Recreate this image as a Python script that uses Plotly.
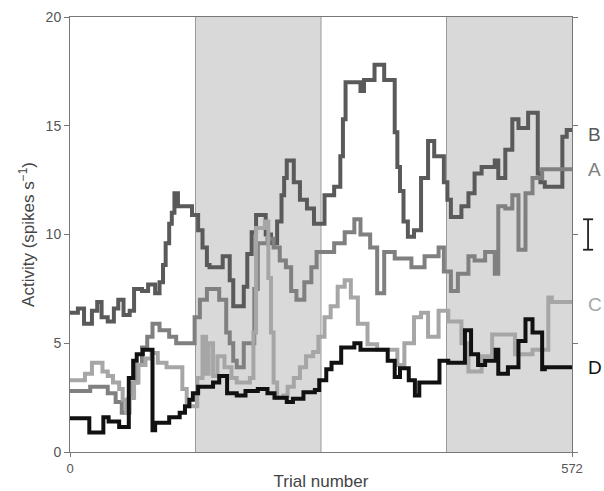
import plotly.graph_objects as go

# ---- data (trial number where each step starts, firing rate in spikes/s) ----
trial_B = [0, 9, 16, 25, 31, 36, 43, 50, 55, 61, 68, 73, 82, 89, 97, 102, 106, 109, 113, 116,
           119, 123, 139, 146, 151, 156, 159, 174, 182, 186, 198, 202, 207, 212, 223, 229, 236, 241, 244, 247,
           255, 262, 270, 278, 290, 301, 308, 311, 314, 331, 335, 347, 358, 370, 373, 376, 380, 385, 392, 400,
           408, 415, 426, 430, 434, 446, 454, 461, 469, 484, 488, 496, 504, 511, 522, 533, 536, 541, 561, 566, 572]
rate_B = [6.4, 6.6, 5.9, 6.5, 6.9, 6.2, 6.0, 6.6, 7.0, 6.3, 6.5, 7.5, 7.4, 7.7, 7.3, 7.8, 8.6, 9.6, 10.5, 11.0,
          11.9, 11.3, 10.9, 10.2, 9.4, 8.6, 8.5, 9.0, 7.9, 6.7, 7.6, 9.1, 10.1, 10.9, 10.0, 9.6, 10.6, 11.8, 12.6, 13.4,
          12.4, 11.6, 11.2, 10.5, 11.8, 12.2, 13.6, 15.3, 17.0, 16.6, 17.1, 17.8, 17.1, 14.7, 13.1, 12.0, 10.6, 9.9, 10.2, 12.6,
          14.3, 13.6, 12.4, 11.6, 10.8, 11.3, 11.9, 12.8, 13.1, 13.4, 12.6, 13.9, 15.3, 14.9, 15.6, 12.8, 12.4, 12.2, 14.5, 14.8, 14.8]

trial_A = [0, 23, 43, 52, 59, 67, 72, 76, 82, 88, 94, 102, 113, 121, 142, 148, 156, 170, 178, 182,
           186, 190, 198, 210, 214, 225, 232, 239, 246, 252, 258, 267, 275, 281, 301, 313, 324, 331, 342, 350,
           358, 370, 389, 404, 420, 426, 434, 442, 454, 461, 473, 484, 488, 496, 504, 511, 519, 527, 538, 572]
rate_A = [2.8, 3.0, 2.7, 2.3, 1.8, 2.5, 3.2, 4.0, 4.8, 5.3, 5.9, 5.6, 5.3, 5.0, 6.2, 7.0, 7.5, 7.0, 5.5, 5.0,
          4.2, 3.9, 5.0, 7.5, 9.6, 9.8, 9.4, 8.8, 8.5, 7.4, 7.0, 7.8, 8.5, 9.2, 9.6, 10.1, 10.7, 10.0, 9.4, 7.3,
          9.2, 8.9, 8.5, 9.0, 9.4, 8.3, 7.4, 8.2, 9.0, 8.8, 9.2, 8.2, 11.3, 11.2, 11.8, 9.3, 11.9, 12.6, 13.0, 13.0]

trial_C = [0, 17, 25, 37, 43, 49, 56, 60, 64, 68, 73, 78, 86, 93, 100, 110, 128, 133, 136, 145,
           151, 155, 158, 163, 168, 176, 184, 190, 205, 209, 212, 222, 226, 229, 232, 236, 243, 248, 255, 262,
           269, 277, 283, 290, 297, 305, 313, 320, 328, 339, 350, 373, 381, 392, 400, 408, 420, 431, 446, 454,
           469, 481, 507, 527, 545, 549, 572]
rate_C = [3.3, 3.6, 4.1, 3.7, 3.5, 3.2, 2.9, 2.4, 1.8, 2.5, 3.2, 4.0, 4.3, 4.55, 4.1, 3.9, 2.9, 2.3, 2.1, 3.4,
          5.3, 3.6, 5.0, 3.5, 4.4, 3.9, 3.4, 3.2, 3.4, 5.5, 10.3, 10.6, 8.0, 5.5, 3.2, 2.5, 2.6, 3.0, 3.4, 3.9,
          4.4, 4.6, 5.3, 6.2, 6.7, 7.6, 7.9, 7.1, 5.9, 4.95, 4.7, 4.0, 5.0, 6.2, 6.4, 5.3, 6.5, 6.0, 5.0, 3.7,
          4.4, 5.4, 4.5, 4.7, 7.1, 6.9, 6.9]

trial_D = [0, 22, 38, 44, 56, 67, 72, 76, 83, 94, 97, 113, 125, 131, 136, 140, 146, 163, 170, 179,
           190, 200, 214, 225, 233, 247, 254, 266, 279, 284, 292, 298, 309, 324, 331, 362, 370, 376, 386, 393,
           398, 421, 431, 450, 457, 465, 473, 485, 488, 499, 511, 519, 527, 538, 541, 572]
rate_D = [1.55, 0.9, 1.6, 1.4, 1.15, 3.4, 4.2, 4.5, 4.7, 1.0, 1.35, 1.6, 1.8, 2.1, 2.4, 2.7, 3.0, 3.2, 3.5, 2.7,
          2.6, 2.8, 2.9, 2.7, 2.5, 2.3, 2.45, 2.75, 2.85, 3.3, 3.8, 4.1, 4.8, 5.0, 4.7, 4.2, 3.45, 3.85, 3.3, 2.6,
          3.2, 4.2, 4.1, 5.6, 4.5, 4.0, 4.2, 4.7, 3.6, 3.9, 5.1, 6.1, 5.5, 3.8, 3.9, 3.9]

shaded_blocks = [(143, 286), (429, 572)]
block_edges = [143, 286, 429]
n_trials = 572

series = [
    ("B", trial_B, rate_B, "#5a5a5a", 14.6),
    ("A", trial_A, rate_A, "#808080", 13.0),
    ("C", trial_C, rate_C, "#a6a6a6", 6.8),
    ("D", trial_D, rate_D, "#111111", 3.9),
]
for name, t, r, c, _ in series:
    assert len(t) == len(r), name

fig = go.Figure()

for name, t, r, c, _ in series:
    fig.add_trace(go.Scatter(x=t, y=r, mode="lines", line=dict(color=c, width=4, shape="hv"),
                             name=name, showlegend=False, hoverinfo="skip"))

shapes = []
for x0, x1 in shaded_blocks:
    shapes.append(dict(type="rect", xref="x", yref="y domain", x0=x0, x1=x1, y0=0, y1=1,
                       fillcolor="#d9d9d9", line=dict(width=0), layer="below"))
for e in block_edges:
    shapes.append(dict(type="line", xref="x", yref="y domain", x0=e, x1=e, y0=0, y1=1,
                       line=dict(color="#9a9a9a", width=1), layer="below"))

# scale bar "I" next to the right axis at 10 spikes/s
bar_x = 1.032
shapes.append(dict(type="line", xref="paper", yref="y", x0=bar_x, x1=bar_x, y0=9.3, y1=10.7,
                   line=dict(color="#222", width=1.8)))
for yy in (9.3, 10.7):
    shapes.append(dict(type="line", xref="paper", yref="y", x0=bar_x - 0.01, x1=bar_x + 0.01,
                       y0=yy, y1=yy, line=dict(color="#222", width=1.8)))

annotations = []
for name, t, r, c, ylab in series:
    annotations.append(dict(x=1.027, xref="paper", y=ylab, yref="y", text=name, showarrow=False,
                            xanchor="left", yanchor="middle",
                            font=dict(family="Liberation Sans, Arial, sans-serif", size=19, color=c)))

fig.update_layout(
    width=604, height=491,
    margin=dict(l=70, r=32, t=17, b=39, autoexpand=False),
    paper_bgcolor="white", plot_bgcolor="white",
    shapes=shapes, annotations=annotations,
    font=dict(family="Liberation Sans, Arial, sans-serif", color="#444"),
    xaxis=dict(range=[0, n_trials], tickvals=[0, n_trials], ticktext=["0", "572"],
               ticks="outside", ticklen=4, tickcolor="#777", showgrid=False, zeroline=False,
               showline=True, linecolor="#777", linewidth=1, mirror=True, automargin=False,
               tickfont=dict(size=13, color="#555"),
               title=dict(text="Trial number", font=dict(size=17, color="#444"), standoff=2)),
    yaxis=dict(range=[0, 20], tickvals=[0, 5, 10, 15, 20],
               ticks="outside", ticklen=5, tickcolor="#777", showgrid=False, zeroline=False,
               showline=True, linecolor="#777", linewidth=1, mirror="ticks", automargin=False,
               tickfont=dict(size=14, color="#555"),
               title=dict(text="Activity (spikes s<sup>−1</sup>)", font=dict(size=17, color="#444"), standoff=6)),
)

fig.write_html("out.html")
